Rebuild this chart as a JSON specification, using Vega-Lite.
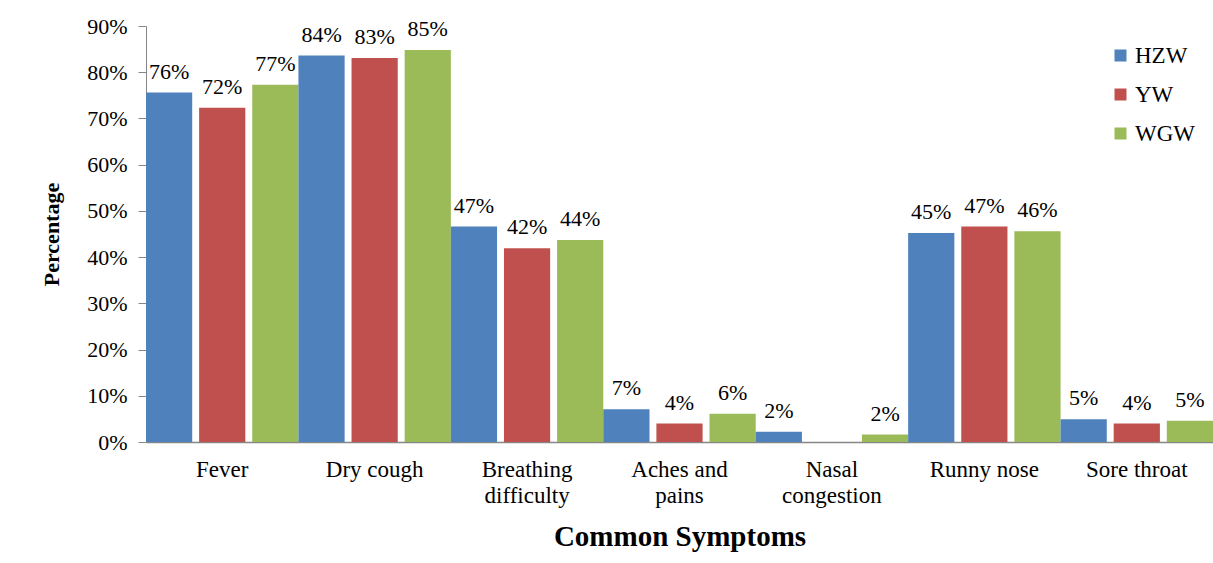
{
  "$schema": "https://vega.github.io/schema/vega-lite/v6.json",
  "width": 1067,
  "height": 416,
  "autosize": {"type": "none"},
  "padding": {"left": 146, "top": 26, "right": 0, "bottom": 121},
  "background": "white",
  "config": {"view": {"stroke": null}, "font": "Liberation Serif", "mark": {"font": "Liberation Serif"}, "text": {"font": "Liberation Serif"}},
  "data": {
    "values": [
      {"symptom": "Fever", "group": "HZW", "value": 0.756},
      {"symptom": "Fever", "group": "YW", "value": 0.723},
      {"symptom": "Fever", "group": "WGW", "value": 0.773},
      {"symptom": "Dry cough", "group": "HZW", "value": 0.836},
      {"symptom": "Dry cough", "group": "YW", "value": 0.831},
      {"symptom": "Dry cough", "group": "WGW", "value": 0.848},
      {"symptom": "Breathing difficulty", "group": "HZW", "value": 0.466},
      {"symptom": "Breathing difficulty", "group": "YW", "value": 0.419},
      {"symptom": "Breathing difficulty", "group": "WGW", "value": 0.437},
      {"symptom": "Aches and pains", "group": "HZW", "value": 0.071},
      {"symptom": "Aches and pains", "group": "YW", "value": 0.040},
      {"symptom": "Aches and pains", "group": "WGW", "value": 0.061},
      {"symptom": "Nasal congestion", "group": "HZW", "value": 0.022},
      {"symptom": "Nasal congestion", "group": "YW", "value": 0},
      {"symptom": "Nasal congestion", "group": "WGW", "value": 0.016},
      {"symptom": "Runny nose", "group": "HZW", "value": 0.452},
      {"symptom": "Runny nose", "group": "YW", "value": 0.466},
      {"symptom": "Runny nose", "group": "WGW", "value": 0.456},
      {"symptom": "Sore throat", "group": "HZW", "value": 0.049},
      {"symptom": "Sore throat", "group": "YW", "value": 0.040},
      {"symptom": "Sore throat", "group": "WGW", "value": 0.046}
    ]
  },
  "encoding": {
    "x": {
      "field": "symptom",
      "type": "nominal",
      "sort": ["Fever", "Dry cough", "Breathing difficulty", "Aches and pains", "Nasal congestion", "Runny nose", "Sore throat"],
      "scale": {"paddingInner": 0, "paddingOuter": 0},
      "title": "Common Symptoms",
      "axis": {
        "labelAngle": 0,
        "ticks": false,
        "labelFontSize": 23,
        "labelColor": "black",
        "labelPadding": 16,
        "labelLineHeight": 26,
        "labelBaseline": "top",
        "labelExpr": "datum.label == 'Breathing difficulty' ? ['Breathing', 'difficulty'] : datum.label == 'Aches and pains' ? ['Aches and', 'pains'] : datum.label == 'Nasal congestion' ? ['Nasal', 'congestion'] : datum.label",
        "domainColor": "#868686",
        "domainWidth": 1.5,
        "titleFontSize": 29,
        "titleFontWeight": "bold",
        "titleColor": "black",
        "titleY": 103,
        "titleBaseline": "alphabetic"
      }
    },
    "xOffset": {
      "field": "group",
      "type": "nominal",
      "sort": ["HZW", "YW", "WGW"],
      "scale": {"paddingInner": 0.13, "paddingOuter": 0}
    },
    "y": {
      "field": "value",
      "type": "quantitative",
      "scale": {"domain": [0, 0.9]},
      "title": "Percentage",
      "axis": {
        "values": [0, 0.1, 0.2, 0.3, 0.4, 0.5, 0.6, 0.7, 0.8, 0.9],
        "format": ".0%",
        "grid": false,
        "labelFontSize": 22,
        "labelColor": "black",
        "labelPadding": 11,
        "tickSize": 8,
        "tickColor": "#868686",
        "domainColor": "#868686",
        "titleFontSize": 22,
        "titleFontWeight": "bold",
        "titleColor": "black",
        "titleX": -88,
        "titleY": 208,
        "titleAlign": "center",
        "titleBaseline": "alphabetic"
      }
    }
  },
  "layer": [
    {
      "mark": {"type": "bar"},
      "encoding": {
        "color": {
          "field": "group",
          "type": "nominal",
          "scale": {"domain": ["HZW", "YW", "WGW"], "range": ["#4F81BD", "#C0504D", "#9BBB59"]},
          "legend": {
            "title": null,
            "orient": "none",
            "legendX": 963,
            "legendY": 18,
            "symbolType": "square",
            "symbolSize": 144,
            "symbolStrokeWidth": 0,
            "labelFontSize": 23,
            "labelColor": "black",
            "labelOffset": 3,
            "rowPadding": 15
          }
        }
      }
    },
    {
      "transform": [{"filter": "datum.value > 0"}],
      "mark": {"type": "text", "baseline": "alphabetic", "dy": -14, "fontSize": 22, "font": "Liberation Serif, Times New Roman, serif", "color": "black"},
      "encoding": {
        "text": {"field": "value", "type": "quantitative", "format": ".0%"}
      }
    }
  ]
}
